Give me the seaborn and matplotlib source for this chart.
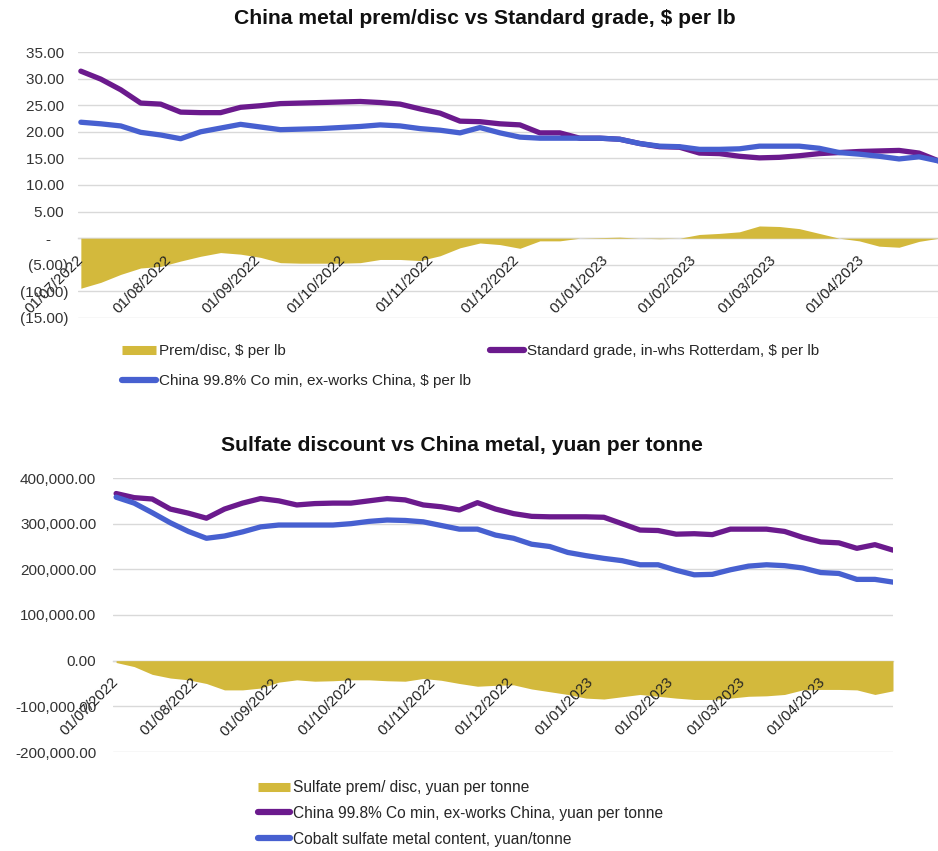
import numpy as np
import pandas as pd
import matplotlib
matplotlib.use("Agg")
import matplotlib.pyplot as plt
import matplotlib.dates as mdates
from matplotlib.lines import Line2D
from matplotlib.ticker import FuncFormatter, MultipleLocator
from matplotlib import font_manager
import seaborn as sns

sns.set_theme(style="white")

def pick(fams):
    for f in fams:
        try:
            font_manager.findfont(f, fallback_to_default=False)
            return f
        except Exception:
            pass
    return "DejaVu Sans"

REG = pick(["Liberation Sans", "Arial"])
NARROW = pick(["Liberation Sans Narrow", "Liberation Sans"])
plt.rcParams["font.family"] = [REG, "DejaVu Sans"]

# ---------------- data ----------------
dates = pd.date_range("2022-07-01", periods=44, freq="7D")

# top chart, $ per lb
standard_grade = [31.4, 29.9, 27.9, 25.4, 25.2, 23.7, 23.6, 23.6, 24.6, 24.9, 25.3,
                  25.4, 25.5, 25.6, 25.7, 25.5, 25.2, 24.3, 23.5, 22.0, 21.9, 21.5,
                  21.3, 19.8, 19.8, 18.8, 18.8, 18.6, 17.8, 17.2, 17.1, 16.0, 15.9,
                  15.4, 15.1, 15.2, 15.5, 15.9, 16.1, 16.3, 16.4, 16.5, 16.0, 14.5]
china_usd = [21.8, 21.5, 21.1, 19.9, 19.4, 18.7, 20.0, 20.7, 21.4, 20.9, 20.4,
             20.5, 20.6, 20.8, 21.0, 21.3, 21.1, 20.6, 20.3, 19.8, 20.8, 19.8,
             19.0, 18.8, 18.8, 18.8, 18.8, 18.6, 17.8, 17.3, 17.2, 16.7, 16.7,
             16.8, 17.3, 17.3, 17.3, 16.9, 16.1, 15.8, 15.4, 14.9, 15.3, 14.5]
prem_disc = [-9.4, -8.3, -6.8, -5.6, -5.3, -4.3, -3.4, -2.7, -3.0, -3.6, -4.6,
             -4.7, -4.7, -4.7, -4.6, -4.0, -4.0, -4.2, -3.3, -1.8, -0.9, -1.2,
             -1.9, -0.5, -0.5, 0.0, 0.1, 0.2, 0.0, -0.1, 0.0, 0.7, 0.9,
             1.2, 2.3, 2.2, 1.8, 0.9, 0.0, -0.5, -1.5, -1.7, -0.6, 0.0]

# bottom chart, yuan per tonne
china_cny = [366000, 357000, 354000, 332000, 323000, 312000, 332000, 345000, 355000,
             350000, 341000, 344000, 345000, 345000, 350000, 355000, 352000, 341000,
             337000, 330000, 346000, 332000, 322000, 316000, 315000, 315000, 315000,
             314000, 300000, 286000, 285000, 277000, 278000, 276000, 288000, 288000,
             288000, 283000, 270000, 260000, 258000, 246000, 254000, 242000]
sulfate_cny = [358000, 345000, 324000, 302000, 283000, 268000, 273000, 282000, 293000,
               297000, 297000, 297000, 297000, 300000, 305000, 308000, 307000, 304000,
               296000, 288000, 288000, 275000, 268000, 255000, 250000, 237000, 230000,
               224000, 219000, 210000, 210000, 198000, 188000, 189000, 199000, 207000,
               210000, 208000, 203000, 193000, 191000, 178000, 178000, 172000]
sulfate_disc = [-4000, -13000, -30000, -38000, -42000, -50000, -64000, -64000, -60000,
                -47000, -42000, -45000, -44000, -42000, -42000, -44000, -45000, -39000,
                -43000, -50000, -56000, -54000, -53000, -62000, -68000, -74000, -82000,
                -84000, -79000, -74000, -78000, -82000, -85000, -85000, -82000, -78000,
                -77000, -74000, -64000, -63000, -63000, -64000, -74000, -66000]

top_labels = ["Prem/disc, $ per lb",
              "Standard grade, in-whs Rotterdam, $ per lb",
              "China 99.8% Co min, ex-works China, $ per lb"]
bot_labels = ["Sulfate prem/ disc, yuan per tonne",
              "China 99.8% Co min, ex-works China, yuan per tonne",
              "Cobalt sulfate metal content, yuan/tonne"]
top_title = "China metal prem/disc vs Standard grade, $ per lb"
bot_title = "Sulfate discount vs China metal, yuan per tonne"

GOLD = "#D3B93C"
PURPLE = "#6B1A8D"
BLUE = "#4760D0"
GRID = "#D9D9D9"

W, H = 938, 851
fig = plt.figure(figsize=(W / 100, H / 100), dpi=100)

def ax_at(x0, y0, x1, y1):
    return fig.add_axes([x0 / W, 1 - y1 / H, (x1 - x0) / W, (y1 - y0) / H])

start = pd.Timestamp("2022-07-01")

def style(ax, yfmt, ylim, ystep, xlim_days, pad_y, pad_x, fam):
    ax.set_ylim(*ylim)
    ax.yaxis.set_major_locator(MultipleLocator(ystep))
    ax.yaxis.set_major_formatter(FuncFormatter(yfmt))
    ax.set_xlim(start + pd.Timedelta(days=xlim_days[0]), start + pd.Timedelta(days=xlim_days[1]))
    ax.xaxis.set_major_locator(mdates.MonthLocator())
    ax.xaxis.set_major_formatter(mdates.DateFormatter("%d/%m/%Y"))
    ax.grid(False)
    # horizontal gridlines beneath everything
    for yv in ax.get_yticks():
        if ylim[0] - 1e-9 <= yv <= ylim[1] + 1e-9:
            ax.axhline(yv, color=GRID, lw=1.0, zorder=0.3)
    ax.set_axisbelow(False)
    for s in ["top", "right", "left"]:
        ax.spines[s].set_visible(False)
    ax.spines["bottom"].set_position(("data", 0))
    ax.spines["bottom"].set_color(GRID)
    ax.spines["bottom"].set_linewidth(1.0)
    ax.spines["bottom"].set_zorder(0.4)
    ax.tick_params(axis="y", length=0, pad=pad_y, labelsize=11, labelcolor="#333333")
    ax.tick_params(axis="x", length=4, color=GRID, pad=pad_x, labelsize=10.8, labelcolor="#222222")
    for lab in ax.get_yticklabels():
        lab.set_family([fam, "DejaVu Sans"])
    for lab in ax.get_xticklabels():
        lab.set_rotation(45)
        lab.set_ha("right")
        lab.set_va("center")
        lab.set_rotation_mode("anchor")
        lab.set_family([fam, "DejaVu Sans"])
    ax.set_xlabel("")
    ax.set_ylabel("")

def fmt_top(v, pos):
    if abs(v) < 1e-9:
        return "-    "
    if v < 0:
        return f"({abs(v):.2f})"
    return f"{v:.2f} "

def fmt_bot(v, pos):
    return f"{v:,.2f}"

# ---------------- top chart ----------------
ax1 = ax_at(78, 52, 939, 318)
ax1.fill_between(dates, prem_disc, 0, color=GOLD, lw=0, zorder=1)
sns.lineplot(x=dates, y=china_usd, ax=ax1, color=BLUE, lw=3.8, solid_joinstyle="round", solid_capstyle="round", zorder=4)
sns.lineplot(x=dates, y=standard_grade, ax=ax1, color=PURPLE, lw=3.8, solid_joinstyle="round", solid_capstyle="round", zorder=3)
style(ax1, fmt_top, (-15, 35), 5, (-1, 301), 7, 10, REG)

fig.text(485 / W, 1 - 18 / H, top_title, ha="center", va="center", fontsize=15.2,
         fontweight="bold", family=[NARROW, "DejaVu Sans"], color="#111111")

h_gold = Line2D([], [], color=GOLD, lw=6.5, solid_capstyle="butt")
h_purple = Line2D([], [], color=PURPLE, lw=4.5, solid_capstyle="round")
h_blue = Line2D([], [], color=BLUE, lw=4.5, solid_capstyle="round")

lg_kw = dict(frameon=False, borderpad=0, borderaxespad=0, loc="upper left")
fig.legend([h_gold, h_blue], [top_labels[0], top_labels[2]], bbox_to_anchor=(122 / W, 1 - 344 / H),
           prop={"family": [NARROW, "DejaVu Sans"], "size": 11}, labelspacing=1.05,
           handlelength=2.25, handletextpad=0.2, **lg_kw)
fig.legend([h_purple], [top_labels[1]], bbox_to_anchor=(490 / W, 1 - 344 / H),
           prop={"family": [NARROW, "DejaVu Sans"], "size": 11},
           handlelength=2.25, handletextpad=0.2, **lg_kw)

# ---------------- bottom chart ----------------
ax2 = ax_at(113, 478, 893, 752)
ax2.fill_between(dates, sulfate_disc, 0, color=GOLD, lw=0, zorder=1)
sns.lineplot(x=dates, y=sulfate_cny, ax=ax2, color=BLUE, lw=3.8, solid_joinstyle="round", solid_capstyle="round", zorder=4)
sns.lineplot(x=dates, y=china_cny, ax=ax2, color=PURPLE, lw=3.8, solid_joinstyle="round", solid_capstyle="round", zorder=3)
style(ax2, fmt_bot, (-200000, 400000), 100000, (-1.2, 301), 12, 10, REG)

fig.text(462 / W, 1 - 445 / H, bot_title, ha="center", va="center", fontsize=15.2,
         fontweight="bold", family=[REG, "DejaVu Sans"], color="#111111")

fig.legend([h_gold, h_purple, h_blue], bot_labels, bbox_to_anchor=(258 / W, 1 - 780 / H),
           prop={"family": [REG, "DejaVu Sans"], "size": 11.2}, labelspacing=0.7,
           handlelength=2.05, handletextpad=0.2, **lg_kw)

fig.savefig("out.png", dpi=100, facecolor="white")
